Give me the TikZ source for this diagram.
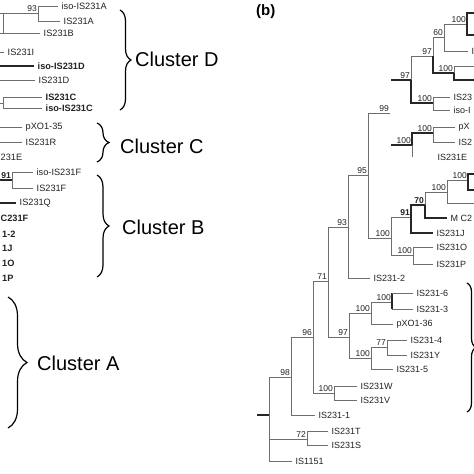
\documentclass[tikz,border=0pt]{standalone}
\usepackage{fontspec}
\setmainfont{Liberation Sans}
\usetikzlibrary{decorations.pathreplacing}
\definecolor{linegray}{HTML}{6E6E6E}
\definecolor{txt}{HTML}{222222}
\begin{document}
\begin{tikzpicture}[x=1pt,y=-1pt,
  thn/.style={draw=linegray, line width=0.8pt},
  thk/.style={draw=black!85, line width=1.6pt},
  lab/.style={anchor=west, inner sep=0pt, text=txt, font=\fontsize{9.2}{10}\selectfont, xshift=3.5pt},
  rlab/.style={anchor=west, inner sep=0pt, text=txt, font=\fontsize{9}{10}\selectfont, xshift=3.5pt},
  boot/.style={anchor=south east, inner sep=1pt, text=txt, font=\fontsize{8.5}{9}\selectfont},
  clus/.style={anchor=west, inner sep=0pt, text=black, font=\fontsize{20}{22}\selectfont},
  clbrace/.style={decorate, decoration={brace, amplitude=#1}, line width=1.2pt, draw=black}]
\useasboundingbox (0,0) rectangle (474,474);
\fill[white] (0,0) rectangle (474,474);
\clip (0,0) rectangle (474,474);

% ---------------- panel (a), left fragment ----------------
\coordinate (aN1) at (3,23);
\coordinate (a93) at (38,13);
\coordinate (aA1) at (58,6);
\coordinate (aA2) at (60,21);
\coordinate (aB) at (40,33);
\coordinate (aT0) at (-1,13);
\coordinate (aB0) at (-1,33);
\draw[thn] (aN1) |- (a93);
\draw[thn] (aN1) |- (aB);
\draw[thn] (aT0) -- (aN1 |- a93);
\draw[thn] (aB0) -- (aN1 |- aB);
\draw[thn] (a93) |- (aA1);
\draw[thn] (a93) |- (aA2);
\node[boot] (la93) at (a93) {93};
\node[lab] (tA1) at (aA1) {iso-IS231A};
\node[lab] (tA2) at (aA2) {IS231A};
\node[lab] (tB) at (aB) {IS231B};

\coordinate (aI0) at (-1,52);
\coordinate (aI) at (4,52);
\draw[thn] (aI0) -- (aI);
\node[lab] (tI) at (aI) {IS231I};

\coordinate (aD10) at (-1,66);
\coordinate (aD1) at (34,66);
\draw[thk, line width=1.3pt] (aD10) -- (aD1);
\node[lab, font=\fontsize{9.2}{10}\selectfont\bfseries] (tD1) at (aD1) {iso-IS231D};

\coordinate (aD20) at (-1,80);
\coordinate (aD2) at (35,80);
\draw[thn] (aD20) -- (aD2);
\node[lab] (tD2) at (aD2) {IS231D};

\coordinate (aC0) at (-1,103);
\coordinate (aC) at (3,103);
\coordinate (aC1) at (42,97);
\coordinate (aC2) at (42,108);
\draw[thn] (aC0) -- (aC);
\draw[thn] (aC) |- (aC1);
\draw[thn] (aC) |- (aC2);
\node[lab, font=\fontsize{9.2}{10}\selectfont\bfseries] (tC1) at (aC1) {IS231C};
\node[lab, font=\fontsize{9.2}{10}\selectfont\bfseries] (tC2) at (aC2) {iso-IS231C};

\coordinate (aP0) at (-1,127);
\coordinate (aP) at (22,127);
\draw[thn] (aP0) -- (aP);
\node[lab] (tP) at (aP) {pXO1-35};
\coordinate (aR0) at (-1,142);
\coordinate (aR) at (22,142);
\draw[thn] (aR0) -- (aR);
\node[lab] (tR) at (aR) {IS231R};
\coordinate (aE) at (-3,157);
\node[lab] (tE) at (aE) {231E};

\coordinate (a910) at (-1,180);
\coordinate (a91) at (12,180);
\coordinate (aF1) at (33,172);
\coordinate (aF2) at (33,188);
\draw[thk, line width=1.2pt] (a910) -- (a91);
\draw[thn] (a91) |- (aF1);
\draw[thn] (a91) |- (aF2);
\node[boot, font=\fontsize{8.5}{9}\selectfont\bfseries] (la91) at (a91) {91};
\node[lab] (tF1) at (aF1) {iso-IS231F};
\node[lab] (tF2) at (aF2) {IS231F};

\coordinate (aQ0) at (-1,203);
\coordinate (aQ) at (16,203);
\draw[thk, line width=1.3pt] (aQ0) -- (aQ);
\node[lab] (tQ) at (aQ) {IS231Q};

\coordinate (aM) at (-3,218);
\node[lab, font=\fontsize{9.2}{10}\selectfont\bfseries] (tM) at (aM) {C231F};
\coordinate (a12) at (-1.5,234);
\node[lab, font=\fontsize{9.2}{10}\selectfont\bfseries] (t12) at (a12) {1-2};
\coordinate (a1J) at (-1.5,248);
\node[lab, font=\fontsize{9.2}{10}\selectfont\bfseries] (t1J) at (a1J) {1J};
\coordinate (a1O) at (-1.5,263);
\node[lab, font=\fontsize{9.2}{10}\selectfont\bfseries] (t1O) at (a1O) {1O};
\coordinate (a1P) at (-1.5,278);
\node[lab, font=\fontsize{9.2}{10}\selectfont\bfseries] (t1P) at (a1P) {1P};

% cluster braces and names
\coordinate (bD1) at (120,10);  \coordinate (bD2) at (120,110);
\coordinate (bC1) at (97,123);  \coordinate (bC2) at (97,162);
\coordinate (bB1) at (97,175);  \coordinate (bB2) at (97,277);
\coordinate (bA1) at (8,297);   \coordinate (bA2) at (8,428);
\draw[clbrace=11] (bD1) -- (bD2);
\draw[clbrace=12] (bC1) -- (bC2);
\draw[clbrace=12] (bB1) -- (bB2);
\draw[clbrace=19] (bA1) -- (bA2);
\node[clus] (cD) at (135,59) {Cluster D};
\node[clus] (cC) at (120,146) {Cluster C};
\node[clus] (cB) at (122,227) {Cluster B};
\node[clus] (cA) at (37,363) {Cluster A};

% ---------------- panel (b) ----------------
\node[anchor=west, inner sep=0pt, font=\fontsize{15}{16}\selectfont\bfseries] (plb) at (256,12) {(b)};

% top fragment
\coordinate (bStub) at (391,80);
\coordinate (b97L) at (411,80);
\coordinate (b97U) at (433,56);
\coordinate (b60) at (444,37);
\coordinate (b100a) at (467,24);
\coordinate (ba1) at (480,13);
\coordinate (ba2) at (480,35);
\coordinate (bIleaf) at (468,51);
\coordinate (b100b) at (454,73);
\coordinate (bb1) at (480,66);
\coordinate (bb2) at (480,80);
\coordinate (b100c) at (433,103);
\coordinate (bc1) at (450,97);
\coordinate (bc2) at (450,110);
\draw[thk] (bStub) -- (b97L);
\draw[thn] (b97L) |- (b97U);
\draw[thk, line width=1.3pt] (b97L) |- (b100c);
\draw[thn] (b97U) |- (b60);
\draw[thk, line width=1.3pt] (b97U) |- (b100b);
\draw[thn] (b60) |- (b100a);
\draw[thn] (b60) |- (bIleaf);
\draw[thk, line width=1.3pt] (b100a) |- (ba1);
\draw[thk, line width=1.3pt] (b100a) |- (ba2);
\draw[thn] (b100b) |- (bb1);
\draw[thk, line width=1.3pt] (b100b) |- (bb2);
\draw[thn] (b100c) |- (bc1);
\draw[thn] (b100c) |- (bc2);
\node[boot] (l97L) at (b97L) {97};
\node[boot] (l97U) at (b97U) {97};
\node[boot] (l60) at (b60) {60};
\node[boot] (l100a) at (b100a) {100};
\node[boot] (l100b) at (b100b) {100};
\node[boot] (l100c) at (b100c) {100};
\node[rlab] (tIl) at (bIleaf) {I};
\node[rlab] (tc1) at (bc1) {IS23};
\node[rlab] (tc2) at (bc2) {iso-I};

% 99 fragment and IS231E fragment
\coordinate (b99) at (390,113);
\coordinate (bEstub) at (391,145);
\coordinate (b100e) at (412,145);
\coordinate (b100f) at (433,133);
\coordinate (bf1) at (455,127);
\coordinate (bf2) at (455,142);
\coordinate (bE) at (412,157);
\draw[thk] (bEstub) -- (b100e);
\draw[thk, line width=1.3pt] (b100e) |- (b100f);
\draw[thn] (b100e) -- (bE);
\draw[thn] (b100f) |- (bf1);
\draw[thn] (b100f) |- (bf2);
\node[boot] (l100e) at (b100e) {100};
\node[boot] (l100f) at (b100f) {100};
\node[rlab] (tf1) at (bf1) {pX};
\node[rlab] (tf2) at (bf2) {IS2};
\node[rlab, xshift=22pt] (tE2) at (bE) {IS231E};

% main tree
\coordinate (broot0) at (257,415);
\coordinate (broot) at (269,415);
\coordinate (b98) at (291,377);
\coordinate (b96) at (313,337);
\coordinate (b71) at (328,281);
\coordinate (b93) at (348,227);
\coordinate (b95) at (368,175);
\coordinate (b100d) at (391,238);
\coordinate (b91) at (411,217);
\coordinate (b70) at (425,205);
\coordinate (b100h) at (447,192);
\coordinate (b100i) at (468,180);
\coordinate (bi1) at (480,174);
\coordinate (bi2) at (480,190);
\coordinate (bh2) at (480,203);
\coordinate (bMC) at (447,218);
\coordinate (bJ) at (433,233);
\coordinate (b100g) at (413,255);
\coordinate (bO) at (433,247);
\coordinate (bP) at (433,264);
\coordinate (b2) at (370,278);
\coordinate (b97m) at (349,337);
\coordinate (b100j) at (371,313);
\coordinate (b100l) at (392,302);
\coordinate (b6) at (413,293);
\coordinate (b3) at (413,309);
\coordinate (bp36) at (393,324);
\coordinate (b100k) at (371,358);
\coordinate (b77) at (387,347);
\coordinate (b4) at (407,340);
\coordinate (bY) at (407,355);
\coordinate (b5) at (393,369);
\coordinate (b100m) at (334,393);
\coordinate (bW) at (357,386);
\coordinate (bV) at (357,400);
\coordinate (b1) at (315,415);
\coordinate (b72) at (307,439);
\coordinate (bT) at (328,431);
\coordinate (bS) at (328,445);
\coordinate (b1151) at (292,461);

\draw[thk] (broot0) -- (broot);
\draw[thn] (broot) |- (b98);
\draw[thn] (broot) |- (b72);
\draw[thn] (broot) |- (b1151);
\draw[thn] (b98) |- (b96);
\draw[thn] (b98) |- (b1);
\draw[thn] (b96) |- (b71);
\draw[thn] (b96) |- (b100m);
\draw[thn] (b71) |- (b93);
\draw[thn] (b71) |- (b97m);
\draw[thn] (b93) |- (b95);
\draw[thn] (b93) |- (b2);
\draw[thn] (b95) |- (b99);
\draw[thn] (b95) |- (b100d);
\draw[thn] (b100d) |- (b91);
\draw[thn] (b100d) |- (b100g);
\draw[thk, line width=1.4pt] (b91) |- (b70);
\draw[thk, line width=1.4pt] (b91) |- (bJ);
\draw[thn] (b70) |- (b100h);
\draw[thk, line width=1.3pt] (b70) |- (bMC);
\draw[thn] (b100h) |- (b100i);
\draw[thn] (b100h) |- (bh2);
\draw[thk, line width=1.4pt] (b100i) |- (bi1);
\draw[thk, line width=1.4pt] (b100i) |- (bi2);
\draw[thn] (b100g) |- (bO);
\draw[thn] (b100g) |- (bP);
\draw[thn] (b97m) |- (b100j);
\draw[thn] (b97m) |- (b100k);
\draw[thn] (b100j) |- (b100l);
\draw[thn] (b100j) |- (bp36);
\draw[thk, line width=1.4pt] (b100l) -- (b100l |- b6);
\draw[thk, line width=1.4pt] (b100l) -- (b100l |- b3);
\draw[thn] (b100l |- b6) -- (b6);
\draw[thn] (b100l |- b3) -- (b3);
\draw[thn] (b100k) |- (b77);
\draw[thn] (b100k) |- (b5);
\draw[thn] (b77) |- (b4);
\draw[thn] (b77) |- (bY);
\draw[thn] (b100m) |- (bW);
\draw[thn] (b100m) |- (bV);
\draw[thn] (b72) |- (bT);
\draw[thn] (b72) |- (bS);

\node[boot] (l98) at (b98) {98};
\node[boot] (l96) at (b96) {96};
\node[boot] (l71) at (b71) {71};
\node[boot] (l93) at (b93) {93};
\node[boot] (l95) at (b95) {95};
\node[boot] (l99) at (b99) {99};
\node[boot] (l100d) at (b100d) {100};
\node[boot, font=\fontsize{8.5}{9}\selectfont\bfseries] (l91) at (b91) {91};
\node[boot, font=\fontsize{8.5}{9}\selectfont\bfseries] (l70) at (b70) {70};
\node[boot] (l100h) at (b100h) {100};
\node[boot] (l100i) at (b100i) {100};
\node[boot] (l100g) at (b100g) {100};
\node[boot] (l97m) at (b97m) {97};
\node[boot] (l100j) at (b100j) {100};
\node[boot] (l100l) at (b100l) {100};
\node[boot] (l100k) at (b100k) {100};
\node[boot] (l77) at (b77) {77};
\node[boot] (l100m) at (b100m) {100};
\node[boot] (l72) at (b72) {72};

\node[rlab] (tMC) at (bMC) {M C2};
\node[rlab] (tJ) at (bJ) {IS231J};
\node[rlab] (tO) at (bO) {IS231O};
\node[rlab] (tP2) at (bP) {IS231P};
\node[rlab] (t2) at (b2) {IS231-2};
\node[rlab] (t6) at (b6) {IS231-6};
\node[rlab] (t3) at (b3) {IS231-3};
\node[rlab] (tp36) at (bp36) {pXO1-36};
\node[rlab] (t4) at (b4) {IS231-4};
\node[rlab] (tY) at (bY) {IS231Y};
\node[rlab] (t5) at (b5) {IS231-5};
\node[rlab] (tW) at (bW) {IS231W};
\node[rlab] (tV) at (bV) {IS231V};
\node[rlab] (t1) at (b1) {IS231-1};
\node[rlab] (tT) at (bT) {IS231T};
\node[rlab] (tS) at (bS) {IS231S};
\node[rlab] (t1151) at (b1151) {IS1151};

% right brace fragment
\coordinate (rbr1) at (467,283);
\coordinate (rbr2) at (467,412);
\draw[clbrace=9] (rbr1) -- (rbr2);
\end{tikzpicture}
\end{document}
